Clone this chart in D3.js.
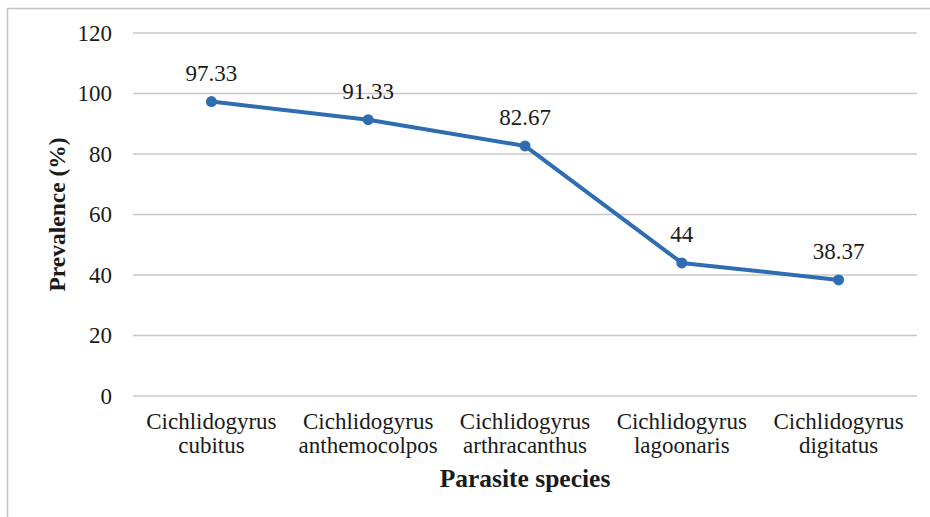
<!DOCTYPE html>
<html>
<head>
<meta charset="utf-8">
<script src="https://cdn.jsdelivr.net/npm/d3@7"></script>
<style>
  body { margin: 0; background: #fff; }
  svg text { font-family: "Liberation Serif", "Times New Roman", serif; fill: #1a1a1a; }
</style>
</head>
<body>
<svg id="chart" width="930" height="517"></svg>
<script>
// Prevalence of Cichlidogyrus species
const species = ["cubitus", "anthemocolpos", "arthracanthus", "lagoonaris", "digitatus"];
const genus = "Cichlidogyrus";
const prevalence = [97.33, 91.33, 82.67, 44, 38.37];
const valueLabels = ["97.33", "91.33", "82.67", "44", "38.37"];
const yTicks = [0, 20, 40, 60, 80, 100, 120];

const svg = d3.select("#chart");
const plot = { left: 133, right: 917, top: 33, bottom: 396 };
const lineColor = "#2e6db0";

// outer frame (only top and left edges are in view)
svg.append("rect")
  .attr("x", 7.5).attr("y", 8.5)
  .attr("width", 940).attr("height", 540)
  .attr("fill", "none")
  .attr("stroke", "#c4c4c4")
  .attr("stroke-width", 1.5);

const x = d3.scaleBand()
  .domain(species)
  .range([plot.left, plot.right]);

const y = d3.scaleLinear()
  .domain([0, 120])
  .range([plot.bottom, plot.top]);

const cx = (d) => x(d) + x.bandwidth() / 2;

// gridlines
svg.append("g")
  .selectAll("line")
  .data(yTicks)
  .join("line")
  .attr("x1", plot.left).attr("x2", plot.right)
  .attr("y1", (d) => y(d)).attr("y2", (d) => y(d))
  .attr("stroke", "#c8c8c8")
  .attr("stroke-width", 1.3);

// y axis labels
const yAxis = svg.append("g")
  .attr("transform", `translate(${plot.left},0)`)
  .call(d3.axisLeft(y).tickValues(yTicks).tickSize(0).tickPadding(21));
yAxis.select(".domain").remove();
yAxis.selectAll("text")
  .attr("font-size", 23)
  .attr("font-family", "Liberation Serif, serif")
  .attr("fill", "#1a1a1a");

// x axis category labels
const xLabels = svg.append("g")
  .selectAll("text")
  .data(species)
  .join("text")
  .attr("text-anchor", "middle")
  .attr("font-size", 23);
xLabels.append("tspan")
  .attr("x", (d) => cx(d)).attr("y", 429)
  .text(genus);
xLabels.append("tspan")
  .attr("x", (d) => cx(d)).attr("y", 453)
  .text((d) => d);

// axis titles
svg.append("text")
  .attr("x", (plot.left + plot.right) / 2)
  .attr("y", 487)
  .attr("text-anchor", "middle")
  .attr("font-size", 25.5)
  .attr("font-weight", "bold")
  .text("Parasite species");

svg.append("text")
  .attr("transform", `translate(65,${(plot.top + plot.bottom) / 2}) rotate(-90)`)
  .attr("text-anchor", "middle")
  .attr("font-size", 23.5)
  .attr("font-weight", "bold")
  .text("Prevalence (%)");

// line + markers
const pts = species.map((s, i) => ({ s, v: prevalence[i], label: valueLabels[i] }));

svg.append("path")
  .datum(pts)
  .attr("fill", "none")
  .attr("stroke", lineColor)
  .attr("stroke-width", 4)
  .attr("stroke-linejoin", "round")
  .attr("d", d3.line().x((d) => cx(d.s)).y((d) => y(d.v)));

svg.append("g")
  .selectAll("circle")
  .data(pts)
  .join("circle")
  .attr("cx", (d) => cx(d.s))
  .attr("cy", (d) => y(d.v))
  .attr("r", 5.5)
  .attr("fill", lineColor);

// data labels
svg.append("g")
  .selectAll("text")
  .data(pts)
  .join("text")
  .attr("x", (d) => cx(d.s))
  .attr("y", (d) => y(d.v) - 21)
  .attr("text-anchor", "middle")
  .attr("font-size", 23)
  .text((d) => d.label);
</script>
</body>
</html>
